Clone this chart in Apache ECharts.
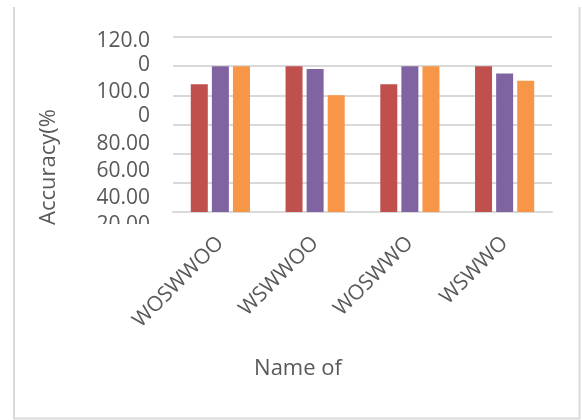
<!DOCTYPE html>
<html>
<head>
<meta charset="utf-8">
<script src="https://cdn.jsdelivr.net/npm/echarts@6/dist/echarts.min.js"></script>
<style>
html,body{margin:0;padding:0;background:#fff;}
#c{width:582px;height:420px;}
</style>
</head>
<body>
<div id="c"></div>
<script>
var categories = ['WOSWWOO', 'WSWWOO', 'WOSWWO', 'WSWWO'];
var seriesA = [87.6, 100, 87.6, 100];
var seriesB = [100, 98, 100, 95];
var seriesC = [100, 80, 100, 90];
var yTickLines = ['120.0', '0', '100.0', '0', '80.00', '60.00', '40.00', '20.00'];
var yTitle = 'Accuracy(%';
var xTitle = 'Name of';

var FONT = '"Open Sans", "Noto Sans", sans-serif';
var TXT = '#595959';
var GRID = '#d9d9d9';

var lineY = [41, 65, 92, 116, 144, 171, 198, 225];
var graphics = [];
yTickLines.forEach(function (t, i) {
  graphics.push({
    type: 'text', x: 150, y: lineY[i], z: 10,
    style: { text: t, fill: TXT, font: '21px ' + FONT, textAlign: 'right', textVerticalAlign: 'middle' }
  });
});
graphics.push({
  type: 'rect', z: 20, shape: { x: 62, y: 224, width: 106, height: 16 },
  style: { fill: '#fff' }
});
graphics.push({
  type: 'text', x: 49, y: 167, rotation: Math.PI / 2, z: 10,
  style: { text: yTitle, fill: TXT, font: '22px ' + FONT, textAlign: 'center', textVerticalAlign: 'middle' }
});
graphics.push({
  type: 'text', x: 298, y: 369, z: 10,
  style: { text: xTitle, fill: TXT, font: '22px ' + FONT, textAlign: 'center', textVerticalAlign: 'middle' }
});
graphics.push({
  type: 'polyline', z: 5,
  shape: { points: [[14, 7], [14, 418.5], [579.5, 418.5], [579.5, 7]] },
  style: { stroke: GRID, lineWidth: 2, fill: null }
});

var chart = echarts.init(document.getElementById('c'), null, { renderer: 'canvas' });
chart.setOption({
  animation: false,
  backgroundColor: '#fff',
  grid: { left: 173, right: 30, top: 37, height: 175, containLabel: false },
  xAxis: {
    type: 'category',
    data: categories,
    axisLine: { lineStyle: { color: GRID, width: 2 } },
    axisTick: { show: false },
    axisLabel: { rotate: 45, margin: 28, color: TXT, fontSize: 21, fontFamily: FONT, interval: 0 }
  },
  yAxis: {
    type: 'value',
    min: 0, max: 120, interval: 20,
    axisLine: { show: false },
    axisTick: { show: false },
    axisLabel: { show: false },
    splitLine: { lineStyle: { color: GRID, width: 2 } }
  },
  series: [
    { type: 'bar', data: seriesA, barWidth: 17, barGap: '24%', itemStyle: { color: '#C0504D' } },
    { type: 'bar', data: seriesB, barWidth: 17, barGap: '24%', itemStyle: { color: '#8064A2' } },
    { type: 'bar', data: seriesC, barWidth: 17, barGap: '24%', itemStyle: { color: '#F79646' } }
  ],
  graphic: graphics
});
</script>
</body>
</html>
